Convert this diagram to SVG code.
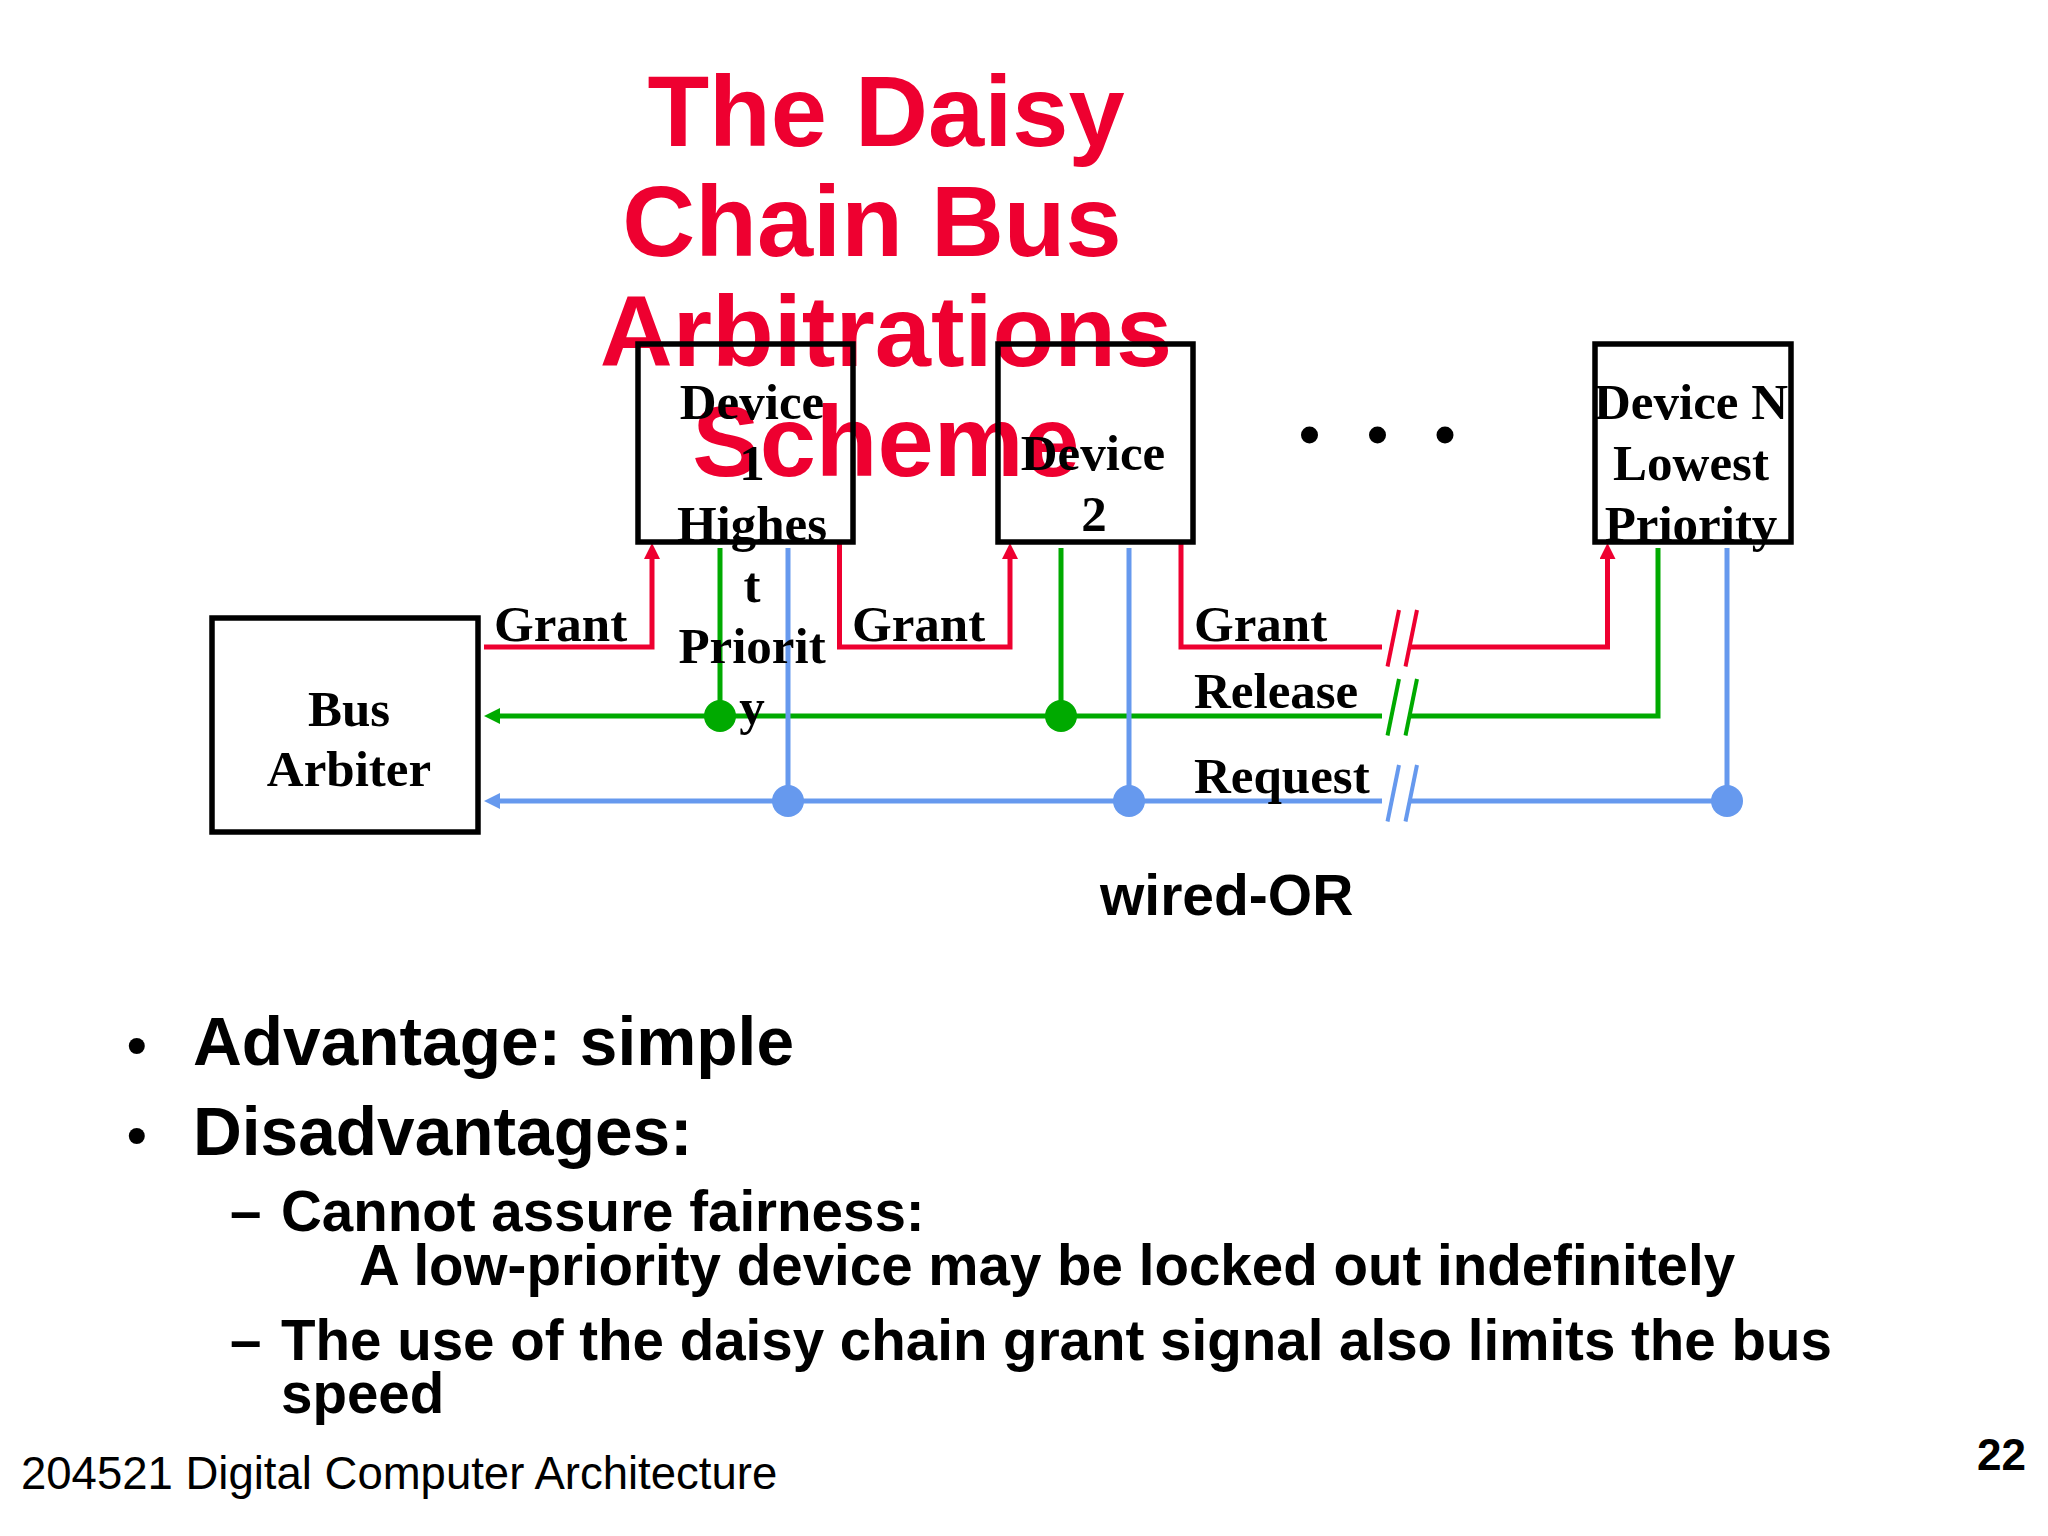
<svg xmlns="http://www.w3.org/2000/svg" width="2048" height="1536" viewBox="0 0 2048 1536">
<style>
.title{font-family:"Liberation Sans",Arial,sans-serif;font-weight:bold;font-size:101px;fill:#EE0030;text-anchor:middle}
.lbl{font-family:"Liberation Serif","Times New Roman",serif;font-weight:bold;font-size:51px;fill:#000}
.ctr{text-anchor:middle}
.box{fill:none;stroke:#000;stroke-width:5.5}
.red{fill:none;stroke:#EE0030;stroke-width:5}
.grn{fill:none;stroke:#00AA00;stroke-width:5}
.blu{fill:none;stroke:#6699EE;stroke-width:5}
.slr{stroke:#EE0030;stroke-width:4}
.slg{stroke:#00AA00;stroke-width:4}
.slb{stroke:#6699EE;stroke-width:4}
.b1{font-family:"Liberation Sans",Arial,sans-serif;font-weight:bold;font-size:67.6px;fill:#000}
.b2{font-family:"Liberation Sans",Arial,sans-serif;font-weight:bold;font-size:56.5px;fill:#000}
.foot{font-family:"Liberation Sans",Arial,sans-serif;font-size:45.5px;fill:#000}
</style>
<defs>
<marker id="ar" markerUnits="userSpaceOnUse" markerWidth="16" markerHeight="16" refX="0" refY="8" orient="auto"><path d="M0,0 L16,8 L0,16 z" fill="#EE0030"/></marker>
<marker id="ag" markerUnits="userSpaceOnUse" markerWidth="16" markerHeight="16" refX="0" refY="8" orient="auto"><path d="M0,0 L16,8 L0,16 z" fill="#00AA00"/></marker>
<marker id="ab" markerUnits="userSpaceOnUse" markerWidth="16" markerHeight="16" refX="0" refY="8" orient="auto"><path d="M0,0 L16,8 L0,16 z" fill="#6699EE"/></marker>
</defs>
<rect width="2048" height="1536" fill="#fff"/>

<g id="title">
<text class="title" x="886" y="146">The Daisy</text>
<text class="title" x="872" y="256">Chain Bus</text>
<text class="title" x="886" y="366">Arbitrations</text>
<text class="title" x="886" y="476">Scheme</text>
</g>

<g id="connectors">
<path class="red" d="M484,647 H652 V559" marker-end="url(#ar)"/>
<path class="red" d="M839.5,543 V647 H1010 V559" marker-end="url(#ar)"/>
<path class="red" d="M1181,543 V647 H1382"/>
<path class="red" d="M1411,647 H1607.5 V559" marker-end="url(#ar)"/>
<line class="slr" x1="1399" y1="610" x2="1387.5" y2="666.5"/>
<line class="slr" x1="1417" y1="610" x2="1405.5" y2="666.5"/>

<path class="grn" d="M720,548 V716"/>
<path class="grn" d="M1061,548 V716"/>
<path class="grn" d="M1382,716 H500" marker-end="url(#ag)"/>
<path class="grn" d="M1411,716 H1658 V548"/>
<line class="slg" x1="1399" y1="679" x2="1387.5" y2="735.5"/>
<line class="slg" x1="1417" y1="679" x2="1405.5" y2="735.5"/>

<path class="blu" d="M788,548 V801"/>
<path class="blu" d="M1129,548 V801"/>
<path class="blu" d="M1727,548 V801"/>
<path class="blu" d="M1382,801 H500" marker-end="url(#ab)"/>
<path class="blu" d="M1411,801 H1727"/>
<line class="slb" x1="1399" y1="765" x2="1387.5" y2="821.5"/>
<line class="slb" x1="1417" y1="765" x2="1405.5" y2="821.5"/>

<circle cx="720" cy="716" r="16" fill="#00AA00"/>
<circle cx="1061" cy="716" r="16" fill="#00AA00"/>
<circle cx="788" cy="801" r="16" fill="#6699EE"/>
<circle cx="1129" cy="801" r="16" fill="#6699EE"/>
<circle cx="1727" cy="801" r="16" fill="#6699EE"/>

<text class="lbl" x="494" y="641">Grant</text>
<text class="lbl" x="852" y="641">Grant</text>
<text class="lbl" x="1194" y="641">Grant</text>
<text class="lbl" x="1194" y="708">Release</text>
<text class="lbl" x="1194" y="793">Request</text>
</g>

<g id="bus-arbiter">
<rect class="box" x="212" y="618" width="266" height="214"/>
<text class="lbl ctr" x="349" y="726">Bus</text>
<text class="lbl ctr" x="349" y="786">Arbiter</text>
</g>

<g id="device-1">
<rect class="box" x="638" y="344" width="215" height="198"/>
<text class="lbl ctr" x="752" y="419">Device</text>
<text class="lbl ctr" x="752" y="480">1</text>
<text class="lbl ctr" x="752" y="541">Highes</text>
<text class="lbl ctr" x="752" y="602">t</text>
<text class="lbl ctr" x="752" y="663">Priorit</text>
<text class="lbl ctr" x="752" y="724">y</text>
</g>

<g id="device-2">
<rect class="box" x="998" y="344" width="195" height="198"/>
<text class="lbl ctr" x="1093" y="470">Device</text>
<text class="lbl ctr" x="1094" y="531">2</text>
</g>

<g id="ellipsis">
<circle cx="1309.5" cy="435" r="8.5" fill="#000"/>
<circle cx="1377.5" cy="435" r="8.5" fill="#000"/>
<circle cx="1445" cy="435" r="8.5" fill="#000"/>
</g>

<g id="device-n">
<rect class="box" x="1595" y="344" width="196" height="198"/>
<text class="lbl ctr" x="1691" y="419">Device N</text>
<text class="lbl ctr" x="1691" y="480">Lowest</text>
<text class="lbl ctr" x="1691" y="541">Priority</text>
</g>

<g id="wired-or">
<text class="b2" x="1100" y="915" style="font-size:57px">wired-OR</text>
</g>

<g id="bullets">
<text class="b1" x="127" y="1064" style="font-size:56px">•</text>
<text class="b1" x="193" y="1065">Advantage: simple</text>
<text class="b1" x="127" y="1154" style="font-size:56px">•</text>
<text class="b1" x="193" y="1155">Disadvantages:</text>
<text class="b2" x="230" y="1231">–</text>
<text class="b2" x="281" y="1231">Cannot assure fairness:</text>
<text class="b2" x="359" y="1285">A low-priority device may be locked out indefinitely</text>
<text class="b2" x="230" y="1360">–</text>
<text class="b2" x="281" y="1360">The use of the daisy chain grant signal also limits the bus</text>
<text class="b2" x="281" y="1413">speed</text>
</g>

<g id="footer">
<text class="foot" x="21" y="1489">204521 Digital Computer Architecture</text>
<text class="b1" x="2026" y="1470" style="font-size:44px;text-anchor:end">22</text>
</g>
</svg>
